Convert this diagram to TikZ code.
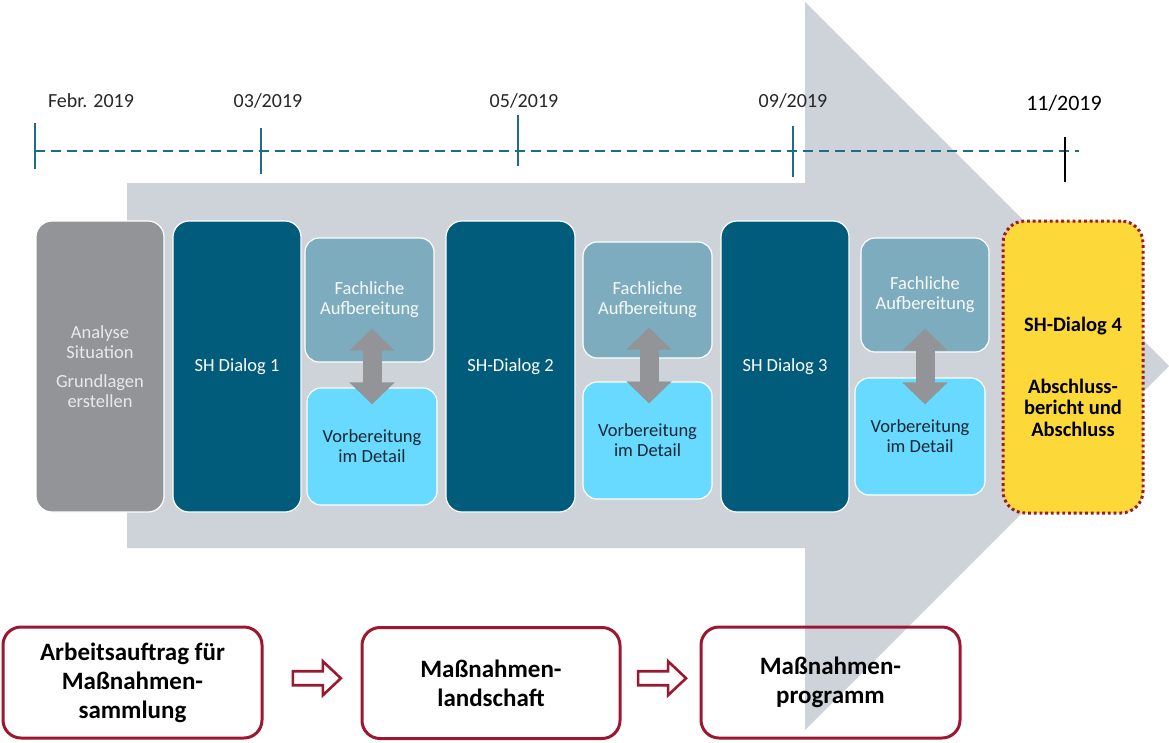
\documentclass[tikz,border=0pt]{standalone}
\usepackage{fontspec}
\setmainfont{Carlito}
\usetikzlibrary{arrows.meta,calc}

\definecolor{bandgray}{RGB}{205,211,217}
\definecolor{stonegray}{RGB}{146,148,151}
\definecolor{deepteal}{RGB}{0,92,122}
\definecolor{softteal}{RGB}{124,172,190}
\definecolor{skyblue}{RGB}{104,218,255}
\definecolor{sunyellow}{RGB}{252,216,56}
\definecolor{winered}{RGB}{155,24,48}
\definecolor{lineteal}{RGB}{30,108,138}
\definecolor{inkgray}{RGB}{38,38,38}
\definecolor{paletext}{RGB}{232,233,234}
\definecolor{darkink}{RGB}{22,40,50}

\tikzset{
  card/.style={rounded corners=16pt, draw=white, line width=1.2pt, align=center,
    inner sep=2pt, font=\fontsize{18.5}{20}\selectfont},
  tallcard/.style={card, minimum width=128pt, minimum height=291pt},
  basecard/.style={tallcard, fill=stonegray, text=paletext},
  phasecard/.style={tallcard, fill=deepteal, text=white},
  techcard/.style={card, rounded corners=14pt, fill=softteal, text=white!95!softteal, minimum width=129pt},
  prepcard/.style={card, rounded corners=14pt, fill=skyblue, text=darkink, minimum width=130pt, minimum height=117pt},
  finalcard/.style={rounded corners=22pt, fill=sunyellow, draw=winered, line width=3pt,
    dash pattern=on 2.8pt off 2.9pt, minimum width=140pt, minimum height=292pt},
  finaltext/.style={align=center, text=black, font=\bfseries\fontsize{20.5}{21.5}\selectfont},
  outcome/.style={draw=winered, line width=3pt, rounded corners=18pt, minimum width=259pt,
    minimum height=111pt, align=center, text=black, font=\bfseries\fontsize{25}{29}\selectfont},
  twoway/.style={stonegray, line width=19pt, {Triangle[width=44pt,length=22pt]}-{Triangle[width=44pt,length=22pt]}},
  dashline/.style={lineteal, line width=2.4pt, dash pattern=on 10pt off 6pt},
  tickmark/.style={lineteal, line width=2.8pt},
  datelabel/.style={anchor=base, text=inkgray, font=\fontsize{20}{24}\selectfont},
  hollowarrow/.pic={
    \draw[winered, line width=2.6pt, fill=white, line join=miter]
      (-24,-7) -- (6,-7) -- (6,-17) -- (24,0) -- (6,17) -- (6,7) -- (-24,7) -- cycle;
  }
}

\begin{document}
\begin{tikzpicture}[x=1pt,y=-1pt]
\useasboundingbox (0,0) rectangle (1169,742);

% broad process arrow in the background
\fill[bandgray] (127,183) -- (805,183) -- (805,2) -- (1169,366) -- (805,730) -- (805,548) -- (127,548) -- cycle;

% timeline
\coordinate (t1) at (35,151);
\coordinate (t2) at (261,151);
\coordinate (t3) at (518,151);
\coordinate (t4) at (793,151);
\coordinate (t5) at (1065,151);
\coordinate (tend) at (1079,151);
\draw[dashline] (t1) -- (tend);
\draw[tickmark] ([yshift=28pt]t1) -- ([yshift=-18pt]t1);
\draw[tickmark] ([yshift=23pt]t2) -- ([yshift=-23pt]t2);
\draw[tickmark] ([yshift=36pt]t3) -- ([yshift=-15pt]t3);
\draw[tickmark] ([yshift=25pt]t4) -- ([yshift=-26pt]t4);
\draw[tickmark, black] ([yshift=14pt]t5) -- ([yshift=-31pt]t5);

\node[datelabel] (l1) at (91,107) {Febr. 2019};
\node[datelabel] (l2) at (268,107) {03/2019};
\node[datelabel] (l3) at (524,107) {05/2019};
\node[datelabel] (l4) at (793,107) {09/2019};
\node[datelabel, text=black, font=\fontsize{22}{26}\selectfont] (l5) at (1064,110) {11/2019};

% phase cards
\node[basecard] (an) at (100,366.5) {Analyse\\Situation\\[9pt]Grundlagen\\erstellen};
\node[phasecard] (d1) at (237,366.5) {SH Dialog 1};
\node[techcard, minimum height=124pt] (f1) at (369.5,300) {Fachliche\\Aufbereitung};
\node[prepcard] (v1) at (372,446.5) {Vorbereitung\\im Detail};
\node[phasecard, minimum width=129pt] (d2) at (510.5,366.5) {SH-Dialog 2};
\node[techcard, minimum height=116pt] (f2) at (647.5,300) {Fachliche\\Aufbereitung};
\node[prepcard, minimum width=129pt] (v2) at (647.5,440.5) {Vorbereitung\\im Detail};
\node[phasecard] (d3) at (785,366.5) {SH Dialog 3};
\node[techcard, minimum width=128pt, minimum height=114pt] (f3) at (925,295) {Fachliche\\Aufbereitung};
\node[prepcard] (v3) at (920,436.5) {Vorbereitung\\im Detail};
\node[finalcard] (d4) at (1073,367) {};
\node[finaltext] (d4t) at ($(d4.center)+(0,10)$) {SH-Dialog 4\\[40pt]Abschluss-\\bericht und\\Abschluss};

% two-way arrows between preparation steps
\draw[twoway] ($(f1.south -| v1.north)+(0,-34)$) -- ($(v1.north)+(0,17)$);
\draw[twoway] ($(f2.south)+(1.5,-31)$) -- ($(v2.north)+(1.5,22)$);
\draw[twoway] ($(f3.south)+(0,-24)$) -- ($(f3.south |- v3.north)+(0,27)$);

% results
\node[outcome] (b1) at (132.5,682.5) {Arbeitsauftrag für\\Maßnahmen-\\sammlung};
\node[outcome, minimum width=258pt] (b2) at (491,683) {Maßnahmen-\\landschaft};
\node[outcome] (b3) at (830.5,682.5) {Maßnahmen-\\programm};
\pic at ($(b1.east)!0.55!(b2.west)+(0,-4.5)$) {hollowarrow};
\pic at ($(b2.east)!0.52!(b3.west)+(0,-4.5)$) {hollowarrow};
\end{tikzpicture}
\end{document}
